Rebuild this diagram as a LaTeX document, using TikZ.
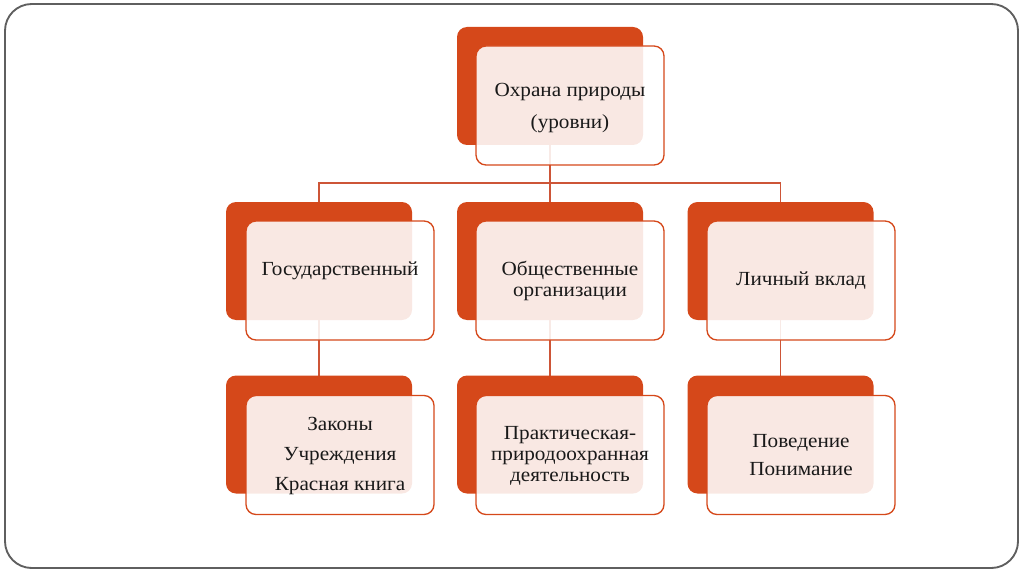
\documentclass[tikz,border=0pt]{standalone}
\usepackage{fontspec}
\setmainfont[FakeStretch=1.06]{Liberation Serif}
\usetikzlibrary{backgrounds}
\definecolor{rust}{RGB}{213,72,26}
\definecolor{linkc}{RGB}{205,85,55}
\definecolor{framec}{RGB}{95,95,95}

\begin{document}
\begin{tikzpicture}[x=0.75pt,y=-0.75pt,
  backbox/.style={fill=rust, rounded corners=7.5pt, minimum width=139.5pt, minimum height=88.5pt, inner sep=0pt},
  frontbox/.style={draw=rust, line width=1pt, fill=white, fill opacity=0.88, rounded corners=7.5pt, minimum width=141pt, minimum height=89.25pt, inner sep=0pt},
  txt/.style={align=center, font=\fontsize{15}{16}\selectfont, text=black!90},
  link/.style={draw=linkc, line width=1pt}]
\useasboundingbox (0,0) rectangle (1024,574);
% Outer frame
\draw[framec, line width=1.4pt, rounded corners=20pt] (5,4) rectangle (1018,568);

% Back boxes
\node[backbox] (topb) at (550,86) {};
\node[backbox] (gosb) at (319,261) {};
\node[backbox] (obshb) at (550,261) {};
\node[backbox] (lichb) at (780.5,261) {};
\node[backbox] (zakb) at (319,434.5) {};
\node[backbox] (prakb) at (550,434.5) {};
\node[backbox] (povb) at (780.5,434.5) {};

% Front boxes
\node[frontbox] (topf) at (570,105.5) {};
\node[frontbox] (gosf) at (340,280.5) {};
\node[frontbox] (obshf) at (570,280.5) {};
\node[frontbox] (lichf) at (801,280.5) {};
\node[frontbox] (zakf) at (340,455) {};
\node[frontbox] (prakf) at (570,455) {};
\node[frontbox] (povf) at (801,455) {};

% Labels
\node[txt] (topt) at (570,108) {Охрана природы\\[8pt](уровни)};
\node[txt] (gost) at (340,271) {Государственный};
\node[txt] (obsht) at (570,281) {Общественные\\организации};
\node[txt] (licht) at (801,281) {Личный вклад};
\node[txt] (zakt) at (340,456) {Законы\\[6.5pt]Учреждения\\[6.5pt]Красная книга};
\node[txt] (prakt) at (570,456) {Практическая-\\природоохранная\\деятельность};
\node[txt] (povt) at (801,455) {Поведение\\[5pt]Понимание};

% Connectors
\begin{scope}[on background layer]
\coordinate (bus) at (550,183);
\draw[link] (topb.center) -- (bus);
\draw[link] (gosb.center) |- (bus) -| (lichb.center);
\draw[link] (bus) -- (obshb.center);
\draw[link] (gosb.center) -- (zakb.center);
\draw[link] (obshb.center) -- (prakb.center);
\draw[link] (lichb.center) -- (povb.center);
\end{scope}
\end{tikzpicture}
\end{document}
